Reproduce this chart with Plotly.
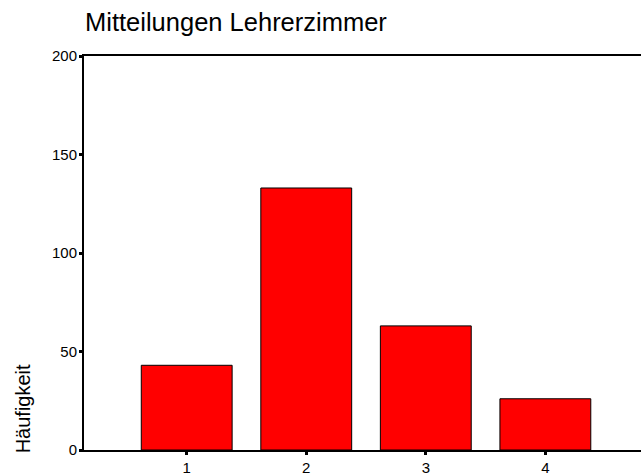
import plotly.graph_objects as go

categories = [1, 2, 3, 4]
values = [43, 133, 63, 26]
y_ticks = [0, 50, 100, 150, 200]
title_text = "Mitteilungen Lehrerzimmer"
y_title = "Häufigkeit"

FONT = "Liberation Sans, Arial, sans-serif"

fig = go.Figure()
fig.add_trace(go.Bar(
    x=categories, y=values, width=0.76,
    marker=dict(color="#FF0000", line=dict(color="black", width=1)),
))

fig.update_layout(
    width=641, height=476,
    margin=dict(l=84, r=0, t=56, b=23),
    paper_bgcolor="white", plot_bgcolor="white",
    font=dict(family=FONT, color="black"),
    showlegend=False,
    title=dict(text=title_text, font=dict(size=25.5, family=FONT, color="black"),
               x=85/641, xanchor="left", xref="container",
               y=1-22/476, yanchor="middle", yref="container"),
    xaxis=dict(range=[0.141, 4.80], tickvals=categories, ticktext=[str(c) for c in categories],
               showgrid=False, zeroline=False, showline=True, linecolor="black", linewidth=2,
               mirror=True, ticks="outside", ticklen=3, tickwidth=3, tickcolor="black",
               tickfont=dict(size=15, family=FONT, color="black"), fixedrange=True),
    yaxis=dict(range=[0, 200], tickvals=y_ticks, showgrid=False, zeroline=False,
               showline=True, linecolor="black", linewidth=2,
               ticks="outside", ticklen=3, tickwidth=3, tickcolor="black",
               tickfont=dict(size=15, family=FONT, color="black"), ticklabelstandoff=-1,
               fixedrange=True),
    annotations=[dict(text=y_title, textangle=-90, xref="paper", yref="paper",
                      x=-0.108, y=0, xanchor="center", yanchor="bottom", showarrow=False,
                      xshift=-1, yshift=-5,
                      font=dict(size=20, family=FONT, color="black"))],
)

fig.write_html("out.html", config={"displayModeBar": False},
               post_script="document.body.style.margin='0';document.body.style.overflow='hidden';")
